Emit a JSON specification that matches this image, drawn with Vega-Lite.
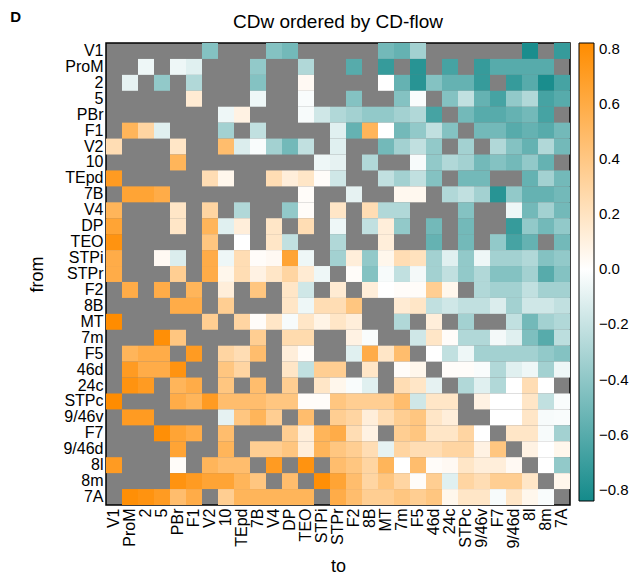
{
  "$schema": "https://vega.github.io/schema/vega-lite/v6.json",
  "padding": {"left": 10, "top": 9, "right": 2, "bottom": 2},
  "title": {"text": "D", "anchor": "start", "frame": "bounds", "fontSize": 15, "fontWeight": "bold", "font": "Liberation Sans", "offset": -12, "dx": -18, "color": "#000000"},
  "vconcat": [
    {
      "width": 464,
      "height": 462,
      "title": {"text": "CDw ordered by CD-flow", "fontSize": 19, "fontWeight": "normal", "font": "Liberation Sans", "offset": 10, "color": "#000000"},
      "data": {
        "values": [
          {"f":"V1","t":"V2","v":-0.44},{"f":"V1","t":"V4","v":-0.44},{"f":"V1","t":"DP","v":-0.5},{"f":"V1","t":"MT","v":-0.5},{"f":"V1","t":"7m","v":-0.55},{"f":"V1","t":"F5","v":-0.33},{"f":"V1","t":"8l","v":-0.82},{"f":"V1","t":"7A","v":-0.72},
          {"f":"ProM","t":"2","v":-0.06},{"f":"ProM","t":"PBr","v":-0.06},{"f":"ProM","t":"F1","v":-0.11},{"f":"ProM","t":"7B","v":-0.39},{"f":"ProM","t":"TEO","v":-0.28},{"f":"ProM","t":"F2","v":-0.6},{"f":"ProM","t":"MT","v":-0.72},{"f":"ProM","t":"F5","v":-0.77},{"f":"ProM","t":"24c","v":-0.66},{"f":"ProM","t":"9/46v","v":-0.72},{"f":"ProM","t":"F7","v":-0.6},{"f":"ProM","t":"9/46d","v":-0.6},{"f":"ProM","t":"8l","v":-0.6},{"f":"ProM","t":"8m","v":-0.6},
          {"f":"2","t":"ProM","v":-0.09},{"f":"2","t":"5","v":-0.39},{"f":"2","t":"F1","v":-0.28},{"f":"2","t":"7B","v":-0.44},{"f":"2","t":"TEO","v":0.04},{"f":"2","t":"MT","v":0.0},{"f":"2","t":"7m","v":-0.55},{"f":"2","t":"F5","v":-0.77},{"f":"2","t":"46d","v":-0.44},{"f":"2","t":"24c","v":-0.55},{"f":"2","t":"STPc","v":-0.55},{"f":"2","t":"9/46v","v":-0.72},{"f":"2","t":"9/46d","v":-0.72},{"f":"2","t":"8l","v":-0.6},{"f":"2","t":"8m","v":-0.82},{"f":"2","t":"7A","v":-0.66},
          {"f":"5","t":"F1","v":0.14},{"f":"5","t":"7B","v":-0.06},{"f":"5","t":"TEO","v":-0.02},{"f":"5","t":"F2","v":-0.44},{"f":"5","t":"7m","v":-0.44},{"f":"5","t":"F5","v":-0.02},{"f":"5","t":"24c","v":-0.44},{"f":"5","t":"STPc","v":-0.22},{"f":"5","t":"9/46v","v":-0.55},{"f":"5","t":"F7","v":-0.66},{"f":"5","t":"9/46d","v":-0.39},{"f":"5","t":"8l","v":-0.28},{"f":"5","t":"8m","v":-0.66},{"f":"5","t":"7A","v":-0.6},
          {"f":"PBr","t":"10","v":-0.06},{"f":"PBr","t":"TEpd","v":0.09},{"f":"PBr","t":"TEO","v":-0.03},{"f":"PBr","t":"STPi","v":-0.17},{"f":"PBr","t":"STPr","v":-0.28},{"f":"PBr","t":"F2","v":-0.33},{"f":"PBr","t":"8B","v":-0.39},{"f":"PBr","t":"MT","v":-0.39},{"f":"PBr","t":"7m","v":-0.33},{"f":"PBr","t":"F5","v":-0.28},{"f":"PBr","t":"46d","v":-0.66},{"f":"PBr","t":"STPc","v":-0.5},{"f":"PBr","t":"9/46v","v":-0.6},{"f":"PBr","t":"F7","v":-0.6},{"f":"PBr","t":"9/46d","v":-0.55},{"f":"PBr","t":"8l","v":-0.5},{"f":"PBr","t":"8m","v":-0.66},
          {"f":"F1","t":"ProM","v":0.53},{"f":"F1","t":"2","v":0.3},{"f":"F1","t":"5","v":-0.11},{"f":"F1","t":"10","v":-0.33},{"f":"F1","t":"7B","v":-0.22},{"f":"F1","t":"STPr","v":-0.11},{"f":"F1","t":"F2","v":-0.55},{"f":"F1","t":"8B","v":0.53},{"f":"F1","t":"MT","v":0.0},{"f":"F1","t":"7m","v":-0.5},{"f":"F1","t":"F5","v":-0.39},{"f":"F1","t":"46d","v":-0.22},{"f":"F1","t":"24c","v":-0.44},{"f":"F1","t":"9/46v","v":-0.5},{"f":"F1","t":"F7","v":-0.5},{"f":"F1","t":"9/46d","v":-0.6},{"f":"F1","t":"8l","v":-0.55},{"f":"F1","t":"8m","v":-0.6},{"f":"F1","t":"7A","v":-0.5},
          {"f":"V2","t":"V1","v":0.24},{"f":"V2","t":"PBr","v":0.18},{"f":"V2","t":"10","v":0.47},{"f":"V2","t":"TEpd","v":-0.13},{"f":"V2","t":"7B","v":-0.02},{"f":"V2","t":"V4","v":-0.33},{"f":"V2","t":"DP","v":-0.5},{"f":"V2","t":"TEO","v":-0.22},{"f":"V2","t":"STPr","v":-0.11},{"f":"V2","t":"MT","v":-0.5},{"f":"V2","t":"7m","v":-0.33},{"f":"V2","t":"F5","v":-0.22},{"f":"V2","t":"46d","v":-0.39},{"f":"V2","t":"STPc","v":-0.33},{"f":"V2","t":"F7","v":-0.28},{"f":"V2","t":"9/46d","v":-0.44},{"f":"V2","t":"8l","v":-0.55},{"f":"V2","t":"8m","v":-0.28},{"f":"V2","t":"7A","v":-0.5},
          {"f":"10","t":"PBr","v":0.53},{"f":"10","t":"STPi","v":-0.06},{"f":"10","t":"STPr","v":-0.09},{"f":"10","t":"8B","v":-0.28},{"f":"10","t":"F5","v":-0.03},{"f":"10","t":"46d","v":-0.39},{"f":"10","t":"24c","v":-0.28},{"f":"10","t":"STPc","v":-0.33},{"f":"10","t":"9/46v","v":-0.5},{"f":"10","t":"F7","v":-0.44},{"f":"10","t":"9/46d","v":-0.5},{"f":"10","t":"8l","v":-0.39},{"f":"10","t":"8m","v":-0.55},
          {"f":"TEpd","t":"V1","v":0.71},{"f":"TEpd","t":"V2","v":0.24},{"f":"TEpd","t":"10","v":0.06},{"f":"TEpd","t":"V4","v":0.24},{"f":"TEpd","t":"DP","v":0.12},{"f":"TEpd","t":"TEO","v":0.18},{"f":"TEpd","t":"STPi","v":0.02},{"f":"TEpd","t":"STPr","v":-0.17},{"f":"TEpd","t":"MT","v":-0.22},{"f":"TEpd","t":"7m","v":-0.33},{"f":"TEpd","t":"F5","v":-0.22},{"f":"TEpd","t":"46d","v":-0.44},{"f":"TEpd","t":"STPc","v":-0.5},{"f":"TEpd","t":"9/46v","v":-0.5},{"f":"TEpd","t":"8l","v":-0.55},{"f":"TEpd","t":"8m","v":-0.33},{"f":"TEpd","t":"7A","v":-0.5},
          {"f":"7B","t":"ProM","v":0.65},{"f":"7B","t":"2","v":0.65},{"f":"7B","t":"5","v":0.59},{"f":"7B","t":"TEO","v":0.02},{"f":"7B","t":"F2","v":-0.09},{"f":"7B","t":"7m","v":0.05},{"f":"7B","t":"F5","v":0.05},{"f":"7B","t":"24c","v":-0.28},{"f":"7B","t":"STPc","v":-0.22},{"f":"7B","t":"9/46v","v":-0.33},{"f":"7B","t":"F7","v":-0.77},{"f":"7B","t":"9/46d","v":-0.39},{"f":"7B","t":"8l","v":-0.55},{"f":"7B","t":"8m","v":-0.55},{"f":"7B","t":"7A","v":-0.5},
          {"f":"V4","t":"V1","v":0.53},{"f":"V4","t":"PBr","v":0.18},{"f":"V4","t":"V2","v":0.3},{"f":"V4","t":"TEpd","v":-0.28},{"f":"V4","t":"DP","v":-0.39},{"f":"V4","t":"TEO","v":0.02},{"f":"V4","t":"STPr","v":0.18},{"f":"V4","t":"8B","v":0.24},{"f":"V4","t":"MT","v":-0.28},{"f":"V4","t":"7m","v":-0.28},{"f":"V4","t":"STPc","v":-0.44},{"f":"V4","t":"9/46d","v":-0.06},{"f":"V4","t":"8l","v":-0.5},{"f":"V4","t":"8m","v":-0.33},{"f":"V4","t":"7A","v":-0.5},
          {"f":"DP","t":"V1","v":0.65},{"f":"DP","t":"PBr","v":0.18},{"f":"DP","t":"V2","v":0.53},{"f":"DP","t":"10","v":-0.11},{"f":"DP","t":"TEpd","v":0.12},{"f":"DP","t":"V4","v":0.18},{"f":"DP","t":"TEO","v":0.24},{"f":"DP","t":"STPr","v":-0.06},{"f":"DP","t":"8B","v":-0.22},{"f":"DP","t":"MT","v":0.12},{"f":"DP","t":"7m","v":-0.39},{"f":"DP","t":"46d","v":-0.5},{"f":"DP","t":"STPc","v":-0.5},{"f":"DP","t":"9/46d","v":-0.72},{"f":"DP","t":"8l","v":-0.39},{"f":"DP","t":"8m","v":-0.5},{"f":"DP","t":"7A","v":-0.39},
          {"f":"TEO","t":"V1","v":0.77},{"f":"TEO","t":"V2","v":0.41},{"f":"TEO","t":"TEpd","v":0.0},{"f":"TEO","t":"V4","v":0.18},{"f":"TEO","t":"DP","v":-0.22},{"f":"TEO","t":"STPr","v":-0.28},{"f":"TEO","t":"MT","v":0.12},{"f":"TEO","t":"46d","v":-0.55},{"f":"TEO","t":"STPc","v":-0.5},{"f":"TEO","t":"F7","v":-0.39},{"f":"TEO","t":"9/46d","v":-0.66},{"f":"TEO","t":"8l","v":-0.55},{"f":"TEO","t":"7A","v":-0.5},
          {"f":"STPi","t":"V1","v":0.59},{"f":"STPi","t":"5","v":0.04},{"f":"STPi","t":"PBr","v":-0.13},{"f":"STPi","t":"V2","v":0.59},{"f":"STPi","t":"10","v":-0.06},{"f":"STPi","t":"TEpd","v":0.24},{"f":"STPi","t":"7B","v":0.02},{"f":"STPi","t":"V4","v":0.04},{"f":"STPi","t":"DP","v":0.65},{"f":"STPi","t":"TEO","v":-0.06},{"f":"STPi","t":"STPr","v":-0.33},{"f":"STPi","t":"F2","v":0.12},{"f":"STPi","t":"8B","v":-0.39},{"f":"STPi","t":"MT","v":0.06},{"f":"STPi","t":"7m","v":0.24},{"f":"STPi","t":"F5","v":0.21},{"f":"STPi","t":"46d","v":-0.33},{"f":"STPi","t":"24c","v":-0.11},{"f":"STPi","t":"STPc","v":-0.39},{"f":"STPi","t":"9/46v","v":-0.06},{"f":"STPi","t":"F7","v":-0.33},{"f":"STPi","t":"9/46d","v":-0.33},{"f":"STPi","t":"8l","v":-0.28},{"f":"STPi","t":"8m","v":-0.44},{"f":"STPi","t":"7A","v":-0.39},
          {"f":"STPr","t":"V1","v":0.59},{"f":"STPr","t":"PBr","v":0.35},{"f":"STPr","t":"V2","v":0.59},{"f":"STPr","t":"10","v":0.06},{"f":"STPr","t":"TEpd","v":0.24},{"f":"STPr","t":"7B","v":0.09},{"f":"STPr","t":"V4","v":0.18},{"f":"STPr","t":"DP","v":0.3},{"f":"STPr","t":"TEO","v":0.14},{"f":"STPr","t":"STPi","v":-0.06},{"f":"STPr","t":"F2","v":0.02},{"f":"STPr","t":"8B","v":-0.44},{"f":"STPr","t":"MT","v":-0.03},{"f":"STPr","t":"7m","v":-0.22},{"f":"STPr","t":"F5","v":-0.04},{"f":"STPr","t":"46d","v":-0.33},{"f":"STPr","t":"24c","v":-0.22},{"f":"STPr","t":"STPc","v":-0.39},{"f":"STPr","t":"9/46v","v":-0.28},{"f":"STPr","t":"F7","v":-0.44},{"f":"STPr","t":"9/46d","v":-0.44},{"f":"STPr","t":"8l","v":-0.33},{"f":"STPr","t":"8m","v":-0.6},{"f":"STPr","t":"7A","v":-0.44},
          {"f":"F2","t":"ProM","v":0.59},{"f":"F2","t":"5","v":0.59},{"f":"F2","t":"F1","v":0.53},{"f":"F2","t":"10","v":0.12},{"f":"F2","t":"7B","v":0.41},{"f":"F2","t":"DP","v":0.18},{"f":"F2","t":"TEO","v":-0.17},{"f":"F2","t":"STPr","v":0.14},{"f":"F2","t":"8B","v":0.12},{"f":"F2","t":"MT","v":0.0},{"f":"F2","t":"7m","v":0.02},{"f":"F2","t":"F5","v":0.02},{"f":"F2","t":"46d","v":0.35},{"f":"F2","t":"24c","v":0.06},{"f":"F2","t":"9/46v","v":-0.28},{"f":"F2","t":"F7","v":-0.33},{"f":"F2","t":"9/46d","v":-0.33},{"f":"F2","t":"8l","v":-0.22},{"f":"F2","t":"8m","v":-0.33},{"f":"F2","t":"7A","v":-0.33},
          {"f":"8B","t":"PBr","v":0.59},{"f":"8B","t":"F1","v":0.59},{"f":"8B","t":"10","v":0.35},{"f":"8B","t":"DP","v":0.18},{"f":"8B","t":"TEO","v":-0.06},{"f":"8B","t":"STPi","v":0.24},{"f":"8B","t":"STPr","v":0.24},{"f":"8B","t":"F2","v":0.41},{"f":"8B","t":"7m","v":0.14},{"f":"8B","t":"F5","v":0.18},{"f":"8B","t":"46d","v":-0.22},{"f":"8B","t":"24c","v":-0.17},{"f":"8B","t":"STPc","v":-0.22},{"f":"8B","t":"9/46v","v":-0.22},{"f":"8B","t":"F7","v":-0.13},{"f":"8B","t":"9/46d","v":-0.33},{"f":"8B","t":"8l","v":-0.17},{"f":"8B","t":"8m","v":-0.17},{"f":"8B","t":"7A","v":-0.22},
          {"f":"MT","t":"V1","v":0.82},{"f":"MT","t":"V2","v":0.35},{"f":"MT","t":"TEpd","v":0.3},{"f":"MT","t":"7B","v":0.02},{"f":"MT","t":"V4","v":0.18},{"f":"MT","t":"DP","v":-0.03},{"f":"MT","t":"TEO","v":0.18},{"f":"MT","t":"STPi","v":0.08},{"f":"MT","t":"STPr","v":0.18},{"f":"MT","t":"F2","v":0.12},{"f":"MT","t":"7m","v":-0.28},{"f":"MT","t":"46d","v":0.12},{"f":"MT","t":"STPc","v":-0.33},{"f":"MT","t":"9/46d","v":-0.22},{"f":"MT","t":"8l","v":-0.5},{"f":"MT","t":"8m","v":-0.33},{"f":"MT","t":"7A","v":-0.28},
          {"f":"7m","t":"5","v":0.8},{"f":"7m","t":"PBr","v":0.41},{"f":"7m","t":"7B","v":0.35},{"f":"7m","t":"DP","v":0.26},{"f":"7m","t":"TEO","v":0.26},{"f":"7m","t":"F2","v":0.09},{"f":"7m","t":"8B","v":-0.02},{"f":"7m","t":"F5","v":-0.17},{"f":"7m","t":"46d","v":0.18},{"f":"7m","t":"24c","v":0.02},{"f":"7m","t":"STPc","v":-0.28},{"f":"7m","t":"9/46v","v":-0.28},{"f":"7m","t":"F7","v":-0.04},{"f":"7m","t":"9/46d","v":-0.11},{"f":"7m","t":"8l","v":-0.46},{"f":"7m","t":"8m","v":-0.6},{"f":"7m","t":"7A","v":-0.24},
          {"f":"F5","t":"ProM","v":0.53},{"f":"F5","t":"2","v":0.59},{"f":"F5","t":"5","v":0.59},{"f":"F5","t":"F1","v":0.71},{"f":"F5","t":"10","v":0.3},{"f":"F5","t":"TEpd","v":0.24},{"f":"F5","t":"7B","v":0.47},{"f":"F5","t":"DP","v":0.12},{"f":"F5","t":"TEO","v":0.02},{"f":"F5","t":"F2","v":-0.11},{"f":"F5","t":"8B","v":0.59},{"f":"F5","t":"MT","v":0.18},{"f":"F5","t":"7m","v":0.47},{"f":"F5","t":"46d","v":0.0},{"f":"F5","t":"24c","v":-0.22},{"f":"F5","t":"STPc","v":-0.06},{"f":"F5","t":"9/46v","v":-0.33},{"f":"F5","t":"F7","v":-0.33},{"f":"F5","t":"9/46d","v":-0.33},{"f":"F5","t":"8l","v":-0.33},{"f":"F5","t":"8m","v":-0.39},{"f":"F5","t":"7A","v":-0.44},
          {"f":"46d","t":"ProM","v":0.71},{"f":"46d","t":"2","v":0.59},{"f":"46d","t":"5","v":0.59},{"f":"46d","t":"PBr","v":0.77},{"f":"46d","t":"10","v":0.41},{"f":"46d","t":"TEpd","v":0.3},{"f":"46d","t":"DP","v":0.18},{"f":"46d","t":"TEO","v":-0.22},{"f":"46d","t":"STPi","v":0.35},{"f":"46d","t":"STPr","v":0.35},{"f":"46d","t":"8B","v":0.18},{"f":"46d","t":"7m","v":0.02},{"f":"46d","t":"F5","v":0.06},{"f":"46d","t":"24c","v":0.02},{"f":"46d","t":"STPc","v":0.02},{"f":"46d","t":"9/46v","v":-0.02},{"f":"46d","t":"F7","v":-0.28},{"f":"46d","t":"9/46d","v":-0.11},{"f":"46d","t":"8l","v":-0.06},{"f":"46d","t":"8m","v":-0.33},{"f":"46d","t":"7A","v":-0.06},
          {"f":"24c","t":"ProM","v":0.77},{"f":"24c","t":"2","v":0.71},{"f":"24c","t":"PBr","v":0.53},{"f":"24c","t":"F1","v":0.59},{"f":"24c","t":"10","v":0.41},{"f":"24c","t":"7B","v":0.47},{"f":"24c","t":"DP","v":0.35},{"f":"24c","t":"STPi","v":0.18},{"f":"24c","t":"STPr","v":0.06},{"f":"24c","t":"F2","v":-0.02},{"f":"24c","t":"8B","v":-0.11},{"f":"24c","t":"7m","v":0.24},{"f":"24c","t":"F5","v":0.18},{"f":"24c","t":"46d","v":-0.09},{"f":"24c","t":"STPc","v":-0.28},{"f":"24c","t":"9/46v","v":-0.11},{"f":"24c","t":"F7","v":-0.28},{"f":"24c","t":"9/46d","v":0.0},{"f":"24c","t":"8l","v":0.24},{"f":"24c","t":"8m","v":0.0},
          {"f":"STPc","t":"V1","v":0.82},{"f":"STPc","t":"PBr","v":0.59},{"f":"STPc","t":"F1","v":0.53},{"f":"STPc","t":"V2","v":0.71},{"f":"STPc","t":"10","v":0.47},{"f":"STPc","t":"TEpd","v":0.47},{"f":"STPc","t":"7B","v":0.47},{"f":"STPc","t":"V4","v":0.41},{"f":"STPc","t":"DP","v":0.41},{"f":"STPc","t":"TEO","v":0.02},{"f":"STPc","t":"STPi","v":0.02},{"f":"STPc","t":"STPr","v":0.41},{"f":"STPc","t":"F2","v":0.35},{"f":"STPc","t":"8B","v":0.35},{"f":"STPc","t":"MT","v":0.35},{"f":"STPc","t":"7m","v":0.47},{"f":"STPc","t":"F5","v":-0.17},{"f":"STPc","t":"46d","v":0.18},{"f":"STPc","t":"24c","v":0.18},{"f":"STPc","t":"9/46v","v":0.09},{"f":"STPc","t":"F7","v":0.0},{"f":"STPc","t":"9/46d","v":0.0},{"f":"STPc","t":"8l","v":0.18},{"f":"STPc","t":"8m","v":-0.22},{"f":"STPc","t":"7A","v":-0.02},
          {"f":"9/46v","t":"ProM","v":0.71},{"f":"9/46v","t":"2","v":0.71},{"f":"9/46v","t":"10","v":-0.09},{"f":"9/46v","t":"TEpd","v":0.41},{"f":"9/46v","t":"7B","v":0.53},{"f":"9/46v","t":"V4","v":0.35},{"f":"9/46v","t":"TEO","v":0.47},{"f":"9/46v","t":"STPr","v":0.35},{"f":"9/46v","t":"F2","v":0.3},{"f":"9/46v","t":"8B","v":0.12},{"f":"9/46v","t":"MT","v":0.24},{"f":"9/46v","t":"7m","v":0.35},{"f":"9/46v","t":"F5","v":0.41},{"f":"9/46v","t":"46d","v":0.18},{"f":"9/46v","t":"24c","v":0.12},{"f":"9/46v","t":"F7","v":0.0},{"f":"9/46v","t":"9/46d","v":0.0},{"f":"9/46v","t":"8l","v":0.18},{"f":"9/46v","t":"8m","v":-0.03},{"f":"9/46v","t":"7A","v":-0.02},
          {"f":"F7","t":"5","v":0.8},{"f":"F7","t":"PBr","v":0.65},{"f":"F7","t":"F1","v":0.59},{"f":"F7","t":"10","v":0.47},{"f":"F7","t":"DP","v":0.35},{"f":"F7","t":"TEO","v":0.12},{"f":"F7","t":"STPi","v":0.53},{"f":"F7","t":"STPr","v":0.59},{"f":"F7","t":"F2","v":0.24},{"f":"F7","t":"8B","v":0.09},{"f":"F7","t":"7m","v":0.35},{"f":"F7","t":"F5","v":0.41},{"f":"F7","t":"46d","v":0.18},{"f":"F7","t":"24c","v":0.18},{"f":"F7","t":"STPc","v":0.3},{"f":"F7","t":"9/46v","v":0.0},{"f":"F7","t":"9/46d","v":0.18},{"f":"F7","t":"8l","v":0.18},{"f":"F7","t":"8m","v":-0.03},{"f":"F7","t":"7A","v":-0.33},
          {"f":"9/46d","t":"PBr","v":0.65},{"f":"9/46d","t":"10","v":0.53},{"f":"9/46d","t":"7B","v":0.35},{"f":"9/46d","t":"V4","v":0.35},{"f":"9/46d","t":"DP","v":0.41},{"f":"9/46d","t":"TEO","v":0.12},{"f":"9/46d","t":"STPi","v":0.53},{"f":"9/46d","t":"STPr","v":0.41},{"f":"9/46d","t":"F2","v":0.35},{"f":"9/46d","t":"8B","v":0.24},{"f":"9/46d","t":"MT","v":-0.09},{"f":"9/46d","t":"7m","v":0.3},{"f":"9/46d","t":"F5","v":0.24},{"f":"9/46d","t":"46d","v":0.24},{"f":"9/46d","t":"24c","v":0.3},{"f":"9/46d","t":"STPc","v":0.3},{"f":"9/46d","t":"9/46v","v":0.09},{"f":"9/46d","t":"F7","v":0.41},{"f":"9/46d","t":"8l","v":0.09},{"f":"9/46d","t":"8m","v":0.0},{"f":"9/46d","t":"7A","v":0.06},
          {"f":"8l","t":"V1","v":0.71},{"f":"8l","t":"PBr","v":0.02},{"f":"8l","t":"V2","v":0.53},{"f":"8l","t":"10","v":0.47},{"f":"8l","t":"TEpd","v":0.47},{"f":"8l","t":"V4","v":0.71},{"f":"8l","t":"TEO","v":0.77},{"f":"8l","t":"STPr","v":0.47},{"f":"8l","t":"F2","v":0.41},{"f":"8l","t":"8B","v":0.3},{"f":"8l","t":"MT","v":0.53},{"f":"8l","t":"7m","v":0.0},{"f":"8l","t":"F5","v":0.47},{"f":"8l","t":"46d","v":0.02},{"f":"8l","t":"24c","v":0.04},{"f":"8l","t":"STPc","v":0.18},{"f":"8l","t":"9/46v","v":0.12},{"f":"8l","t":"F7","v":0.12},{"f":"8l","t":"9/46d","v":0.04},{"f":"8l","t":"8m","v":0.0},{"f":"8l","t":"7A","v":-0.39},
          {"f":"8m","t":"PBr","v":0.77},{"f":"8m","t":"F1","v":0.71},{"f":"8m","t":"V2","v":0.65},{"f":"8m","t":"10","v":0.65},{"f":"8m","t":"TEpd","v":0.53},{"f":"8m","t":"7B","v":0.41},{"f":"8m","t":"DP","v":0.47},{"f":"8m","t":"STPi","v":0.8},{"f":"8m","t":"STPr","v":0.65},{"f":"8m","t":"F2","v":0.47},{"f":"8m","t":"8B","v":0.3},{"f":"8m","t":"MT","v":0.41},{"f":"8m","t":"7m","v":0.3},{"f":"8m","t":"F5","v":0.02},{"f":"8m","t":"46d","v":0.35},{"f":"8m","t":"24c","v":-0.11},{"f":"8m","t":"STPc","v":0.3},{"f":"8m","t":"9/46v","v":0.24},{"f":"8m","t":"F7","v":0.35},{"f":"8m","t":"9/46d","v":0.35},{"f":"8m","t":"8l","v":0.18},{"f":"8m","t":"7A","v":0.06},
          {"f":"7A","t":"ProM","v":0.8},{"f":"7A","t":"2","v":0.77},{"f":"7A","t":"5","v":0.71},{"f":"7A","t":"PBr","v":0.47},{"f":"7A","t":"F1","v":0.59},{"f":"7A","t":"10","v":0.35},{"f":"7A","t":"TEpd","v":0.53},{"f":"7A","t":"7B","v":0.53},{"f":"7A","t":"V4","v":0.53},{"f":"7A","t":"DP","v":0.53},{"f":"7A","t":"TEO","v":0.53},{"f":"7A","t":"STPr","v":0.59},{"f":"7A","t":"F2","v":0.47},{"f":"7A","t":"8B","v":0.35},{"f":"7A","t":"MT","v":0.35},{"f":"7A","t":"7m","v":0.41},{"f":"7A","t":"F5","v":0.35},{"f":"7A","t":"46d","v":0.41},{"f":"7A","t":"24c","v":0.06},{"f":"7A","t":"STPc","v":0.18},{"f":"7A","t":"9/46v","v":0.18},{"f":"7A","t":"F7","v":-0.03},{"f":"7A","t":"9/46d","v":0.18},{"f":"7A","t":"8l","v":0.06},{"f":"7A","t":"8m","v":-0.02}
        ]
      },
      "mark": {"type": "rect"},
      "encoding": {
        "x": {
          "field": "t", "type": "nominal",
          "scale": {"domain": ["V1","ProM","2","5","PBr","F1","V2","10","TEpd","7B","V4","DP","TEO","STPi","STPr","F2","8B","MT","7m","F5","46d","24c","STPc","9/46v","F7","9/46d","8l","8m","7A"], "paddingInner": 0, "paddingOuter": 0},
          "axis": {"title": "to", "labelAngle": -90, "labelFontSize": 16, "labelFont": "Liberation Sans", "labelColor": "#000000", "titleFont": "Liberation Sans", "titleFontSize": 18, "titleFontWeight": "normal", "titleColor": "#000000", "ticks": false, "domain": false, "labelPadding": 3, "titlePadding": 9}
        },
        "y": {
          "field": "f", "type": "nominal",
          "scale": {"domain": ["V1","ProM","2","5","PBr","F1","V2","10","TEpd","7B","V4","DP","TEO","STPi","STPr","F2","8B","MT","7m","F5","46d","24c","STPc","9/46v","F7","9/46d","8l","8m","7A"], "paddingInner": 0, "paddingOuter": 0},
          "axis": {"title": "from", "labelFontSize": 16, "labelFont": "Liberation Sans", "labelColor": "#000000", "titleFont": "Liberation Sans", "titleFontSize": 18, "titleFontWeight": "normal", "titleColor": "#000000", "ticks": false, "domain": false, "labelPadding": 3, "titlePadding": 16}
        },
        "color": {
          "field": "v", "type": "quantitative",
          "scale": {"domain": [-0.84, 0, 0.82], "range": ["#148a8a", "#ffffff", "#ff8c00"], "interpolate": "rgb"},
          "legend": {"title": null, "gradientLength": 458, "gradientThickness": 15, "values": [-0.8, -0.6, -0.4, -0.2, 0, 0.2, 0.4, 0.6, 0.8], "format": ".1f", "labelFontSize": 15, "labelFont": "Liberation Sans", "labelColor": "#000000", "gradientStrokeColor": "#000000", "gradientStrokeWidth": 1, "offset": 8, "labelOffset": 5, "padding": 0}
        }
      }
    }
  ],
  "config": {
    "view": {"fill": "#808080", "stroke": "#000000", "strokeWidth": 1.5},
    "background": "#ffffff"
  }
}
